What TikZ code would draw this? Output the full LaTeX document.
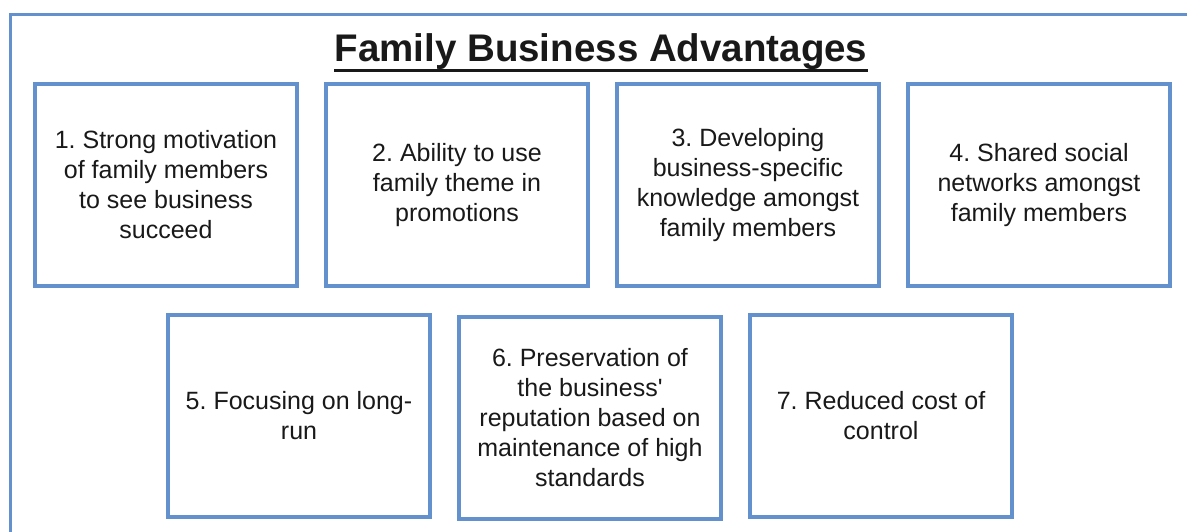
\documentclass[tikz,border=0pt]{standalone}
\usepackage{fontspec}
\setmainfont{Liberation Sans}
\frenchspacing
\begin{document}
\begin{tikzpicture}[x=1pt,y=1pt,
  advbox/.style={draw=boxColor,line width=4pt,fill=white,
    minimum width=262pt,minimum height=202pt,inner sep=0pt,
    align=center,text=textColor,font=\fontsize{25}{30}\selectfont}]
\definecolor{boxColor}{RGB}{99,145,206}
\definecolor{textColor}{RGB}{25,25,25}
\path[use as bounding box,fill=white] (0,0) rectangle (1187,532);
\begin{scope}
\path[clip] (0,0) rectangle (1187,532);
% open frame round everything
\path[draw=boxColor,line width=3pt] (10,-20) rectangle (1210,517);
\end{scope}

% heading
\node[anchor=base,inner sep=0pt,text=textColor,font=\fontsize{38.5}{46}\selectfont\bfseries] (title) at (601,470) {Family Business Advantages};
\draw[textColor,line width=2.6pt] ([yshift=-8.6pt]title.base west) -- ([yshift=-8.6pt]title.base east);

% top row
\node[advbox] (adv1) at (166,347) {1. Strong motivation\\of family members\\to see business\\succeed};
\node[advbox] (adv2) at (457,347) {2. Ability to use\\family theme in\\promotions};
\node[advbox] (adv3) at (748,347) {3. Developing\\business-specific\\knowledge amongst\\family members};
\node[advbox] (adv4) at (1039,347) {4. Shared social\\networks amongst\\family members};

% bottom row
\node[advbox] (adv5) at (299,116) {5. Focusing on long-\\run};
\node[advbox] (adv6) at (590,114) {6. Preservation of\\the business\textquotesingle\\reputation based on\\maintenance of high\\standards};
\node[advbox] (adv7) at (881,116) {7. Reduced cost of\\control};
\end{tikzpicture}
\end{document}
